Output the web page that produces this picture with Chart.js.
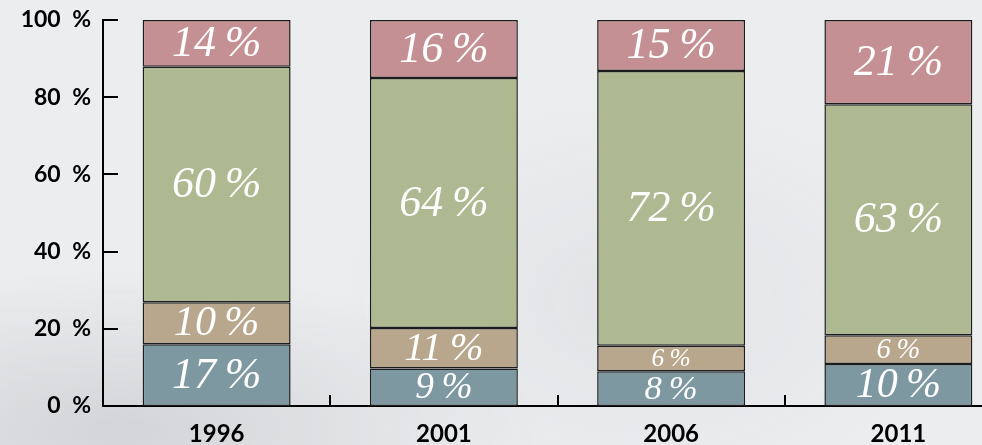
<!DOCTYPE html>
<html>
<head>
<meta charset="utf-8">
<script src="https://cdn.jsdelivr.net/npm/chart.js@4/dist/chart.umd.min.js"></script>
<style>
  html, body { margin: 0; padding: 0; width: 982px; height: 445px; overflow: hidden; }
  body {
    background:
      radial-gradient(ellipse 420px 160px at 120px 430px, rgba(190,192,196,0.55), rgba(190,192,196,0) 100%),
      radial-gradient(ellipse 300px 200px at 640px 300px, rgba(205,207,211,0.35), rgba(205,207,211,0) 100%),
      #ecedef;
  }
  #wrap { position: absolute; left: 0; top: 0; width: 1012px; height: 445px; }
</style>
</head>
<body>
<div id="wrap"><canvas id="c" width="1012" height="445"></canvas></div>
<script>
// ---- data ----
const years = ['1996', '2001', '2006', '2011'];
// segment heights (percent of bar)
const blueValues  = [16.0, 9.7, 9.0, 10.9];
const tanValues   = [10.9, 10.5, 6.6, 7.4];
const greenValues = [61.0, 64.8, 71.2, 59.9];
const pinkValues  = [12.1, 15.0, 13.2, 21.8];
// printed labels
const blueLabels  = [17, 9, 8, 10];
const tanLabels   = [10, 11, 6, 6];
const greenLabels = [60, 64, 72, 63];
const pinkLabels  = [14, 16, 15, 21];
const yTicks = [0, 20, 40, 60, 80, 100];

const allLabels = [blueLabels, tanLabels, greenLabels, pinkLabels];

const innerTicks = {
  id: 'innerTicks',
  afterDatasetsDraw(chart) {
    const ctx = chart.ctx, area = chart.chartArea;
    const xs = chart.scales.x, ys = chart.scales.y;
    ctx.save();
    ctx.strokeStyle = '#000';
    ctx.lineWidth = 2;
    yTicks.forEach(v => {
      const py = Math.round(ys.getPixelForValue(v));
      ctx.beginPath(); ctx.moveTo(area.left, py); ctx.lineTo(area.left + 15, py); ctx.stroke();
    });
    for (let i = 0; i < years.length - 1; i++) {
      const px = Math.round((xs.getPixelForValue(i) + xs.getPixelForValue(i + 1)) / 2);
      ctx.beginPath(); ctx.moveTo(px, area.bottom); ctx.lineTo(px, area.bottom - 11); ctx.stroke();
    }
    // segment labels
    ctx.fillStyle = '#ffffff';
    ctx.textAlign = 'center';
    ctx.textBaseline = 'middle';
    chart.data.datasets.forEach((ds, di) => {
      const meta = chart.getDatasetMeta(di);
      meta.data.forEach((bar, i) => {
        const h = Math.abs(bar.base - bar.y);
        const size = Math.min(44, h * 1.0);
        ctx.font = 'italic ' + size.toFixed(1) + 'px "Liberation Serif", "DejaVu Serif", serif';
        ctx.fillText(allLabels[di][i] + '\u2009%', bar.x, (bar.y + bar.base) / 2 + 1);
      });
    });
    ctx.restore();
  }
};

const mk = (label, data, color) => ({
  label, data, backgroundColor: color, borderColor: '#1c1c1c', borderWidth: 1.5,
  borderSkipped: false, barPercentage: 0.651, categoryPercentage: 1.0
});

new Chart(document.getElementById('c'), {
  type: 'bar',
  data: {
    labels: years,
    datasets: [
      mk('blue', blueValues, '#7e98a1'),
      mk('tan', tanValues, '#b8a78c'),
      mk('green', greenValues, '#aeb991'),
      mk('pink', pinkValues, '#c59094')
    ]
  },
  options: {
    responsive: false,
    animation: false,
    events: [],
    layout: { padding: { top: 20, left: 0, right: 0, bottom: 0 } },
    plugins: { legend: { display: false }, tooltip: { enabled: false } },
    scales: {
      x: {
        stacked: true,
        offset: true,
        grid: { display: false, drawTicks: false },
        border: { display: true, color: '#000', width: 2 },
        ticks: { color: '#000', padding: 14, font: { family: 'Lato', weight: 'bold', size: 24 } },
        afterFit(s) { s.height = 39; s.paddingLeft = 0; s.paddingRight = 0; }
      },
      y: {
        stacked: true,
        min: 0, max: 100,
        grid: { display: false, drawTicks: false },
        border: { display: true, color: '#000', width: 2 },
        afterBuildTicks(s) { s.ticks = yTicks.map(v => ({ value: v })); },
        ticks: {
          color: '#000', padding: 12,
          font: { family: 'Lato', weight: 'bold', size: 23 },
          callback: v => v + '\u2002%'
        },
        afterFit(s) { s.width = 103; s.paddingTop = 0; s.paddingBottom = 0; }
      }
    }
  },
  plugins: [innerTicks]
});
</script>
</body>
</html>
